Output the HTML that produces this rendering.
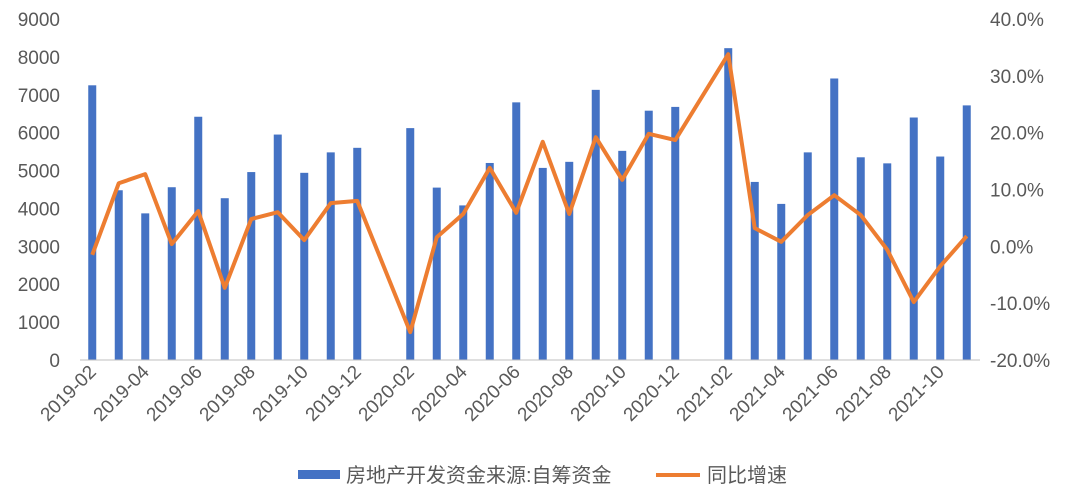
<!DOCTYPE html>
<html><head><meta charset="utf-8"><style>
body{margin:0;background:#fff;}
svg text{font-family:"Liberation Sans","Noto Sans CJK SC",sans-serif;fill:#595959;}
</style></head><body>
<svg width="1080" height="495" xmlns="http://www.w3.org/2000/svg">
<g id="g"></g>
</svg>
<script>
const bars=[7250,4480,3870,4560,6420,4270,4960,5950,4940,5480,5600,null,6120,4550,4080,5200,6800,5070,5230,7130,5520,6580,6680,null,8230,4700,4120,5480,7430,5350,5190,6400,5370,6720];
const line=[-1.5,11.1,12.7,0.4,6.2,-7.3,4.8,6.0,1.1,7.6,8.0,null,-15.1,1.6,5.7,13.8,5.9,18.4,5.7,19.2,11.7,19.8,18.7,null,33.8,3.2,0.8,5.5,9.0,5.5,-0.6,-9.8,-3.5,1.8];
const g=document.getElementById('g');let h='';
const X0=79,W=26.5,Y0=360,T=19;
const yl=v=>Y0-v/9000*(Y0-T);
const yr=v=>T+(40-v)/60*(Y0-T);
for(let i=0;i<=9;i++){h+=`<text x="60" y="${yl(i*1000)+7}" font-size="19" text-anchor="end">${i*1000}</text>`;}
for(let i=0;i<=6;i++){const v=40-i*10;h+=`<text x="990" y="${yr(v)+7}" font-size="19">${v.toFixed(1)}%</text>`;}
bars.forEach((b,i)=>{if(b==null)return;const cx=X0+W*(i+0.5);h+=`<rect x="${cx-4}" y="${yl(b)}" width="8" height="${Y0-yl(b)}" fill="#4472C4"/>`;});
h+=`<line x1="80" y1="${Y0}" x2="980" y2="${Y0}" stroke="#BFBFBF" stroke-width="1"/>`;
let pts=[];line.forEach((v,i)=>{if(v==null)return;pts.push(`${X0+W*(i+0.5)},${yr(v)}`);});
h+=`<polyline points="${pts.join(' ')}" fill="none" stroke="#ED7D31" stroke-width="4" stroke-linejoin="round"/>`;
const labs=['2019-02','2019-04','2019-06','2019-08','2019-10','2019-12','2020-02','2020-04','2020-06','2020-08','2020-10','2020-12','2021-02','2021-04','2021-06','2021-08','2021-10'];
labs.forEach((l,k)=>{const cx=X0+W*(k*2+0.5)+5;h+=`<text x="${cx}" y="373" font-size="19" text-anchor="end" transform="rotate(-45 ${cx} 373)">${l}</text>`;});
h+=`<rect x="298" y="470" width="42" height="9" fill="#4472C4"/><text x="346" y="482" font-size="20">房地产开发资金来源:自筹资金</text>`;
h+=`<line x1="656" y1="475" x2="700" y2="475" stroke="#ED7D31" stroke-width="4"/><text x="707" y="482" font-size="20">同比增速</text>`;
g.innerHTML=h;
</script>
</body></html>
